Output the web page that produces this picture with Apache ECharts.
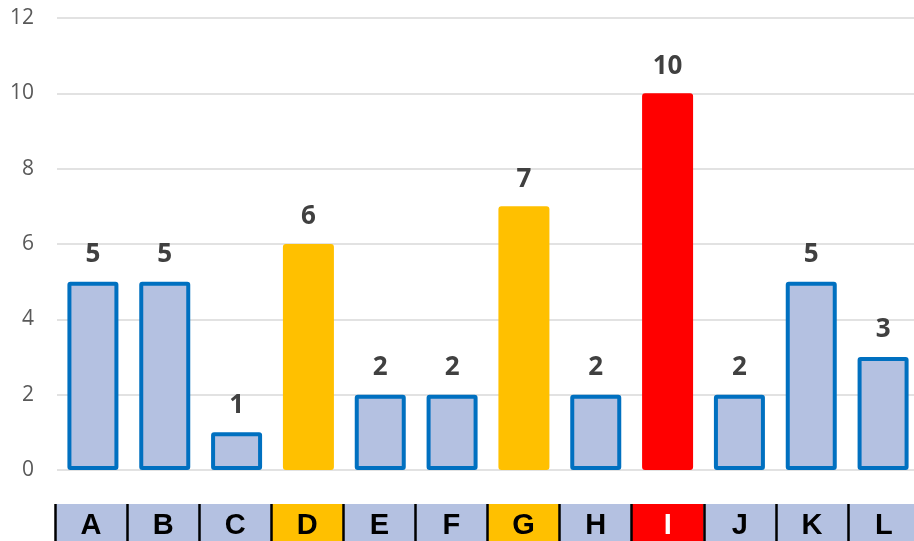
<!DOCTYPE html>
<html>
<head>
<meta charset="utf-8">
<script src="https://cdn.jsdelivr.net/npm/echarts@6/dist/echarts.min.js"></script>
<style>
html,body{margin:0;padding:0;background:#fff;}
#c{width:914px;height:541px;}
</style>
</head>
<body>
<div id="c"></div>
<script>
const categories = ['A','B','C','D','E','F','G','H','I','J','K','L'];
const values = [5,5,1,6,2,2,7,2,10,2,5,3];
const levels = [0,0,0,1,0,0,1,0,2,0,0,0]; // 0 normal, 1 highlight, 2 max
const yTicks = [0,2,4,6,8,10,12];

const fills = ['#B4C1E1','#FFC000','#FF0000'];
const borders = ['#0070C0','#FFC000','#FF0000'];

const chart = echarts.init(document.getElementById('c'), null, {renderer:'canvas'});
chart.setOption({
  animation:false,
  grid:[
    {left:57, width:862, top:18, height:452, outerBoundsMode:'none', containLabel:false},
    {left:55, width:865, top:504, height:44, outerBoundsMode:'none', containLabel:false}
  ],
  xAxis:[
    {type:'category', gridIndex:0, data:categories, axisLine:{show:false}, axisTick:{show:false}, axisLabel:{show:false}},
    {type:'category', gridIndex:1, data:categories, position:'top',
     axisLine:{show:true, lineStyle:{color:'#000', width:3}}, axisTick:{show:false}, axisLabel:{show:false},
     splitLine:{show:true, interval:0, lineStyle:{color:'#000', width:2.5}}, z:5}
  ],
  yAxis:[
    {type:'value', gridIndex:0, min:yTicks[0], max:yTicks[yTicks.length-1], interval:2,
     axisLine:{show:false}, axisTick:{show:false},
     splitLine:{lineStyle:{color:'#D9D9D9', width:1.5}},
     axisLabel:{margin:23, color:'#595959', fontSize:21, fontFamily:'Open Sans, Liberation Sans, sans-serif'}},
    {type:'value', gridIndex:1, min:0, max:1, show:false}
  ],
  series:[
    {type:'bar', xAxisIndex:0, yAxisIndex:0, barWidth:51,
     data: values.map((v,i)=>({value:v, itemStyle:{color:fills[levels[i]], borderColor:borders[levels[i]], borderWidth:4, borderRadius:1}})),
     label:{show:true, position:'top', distance:14, color:'#404040', fontSize:26, fontWeight:'bold', fontFamily:'Open Sans, Liberation Sans, sans-serif'}},
    {type:'bar', xAxisIndex:1, yAxisIndex:1, barWidth:'100%', z:1,
     data: categories.map((c,i)=>({value:1, name:c, itemStyle:{color:fills[levels[i]]},
       label:{color: levels[i]===2 ? '#FFFFFF' : '#000000'}})),
     label:{show:true, position:'inside', formatter:'{b}', fontSize:29, fontWeight:'bold', fontFamily:'Liberation Sans, Arial, sans-serif'}}
  ]
});
</script>
</body>
</html>
